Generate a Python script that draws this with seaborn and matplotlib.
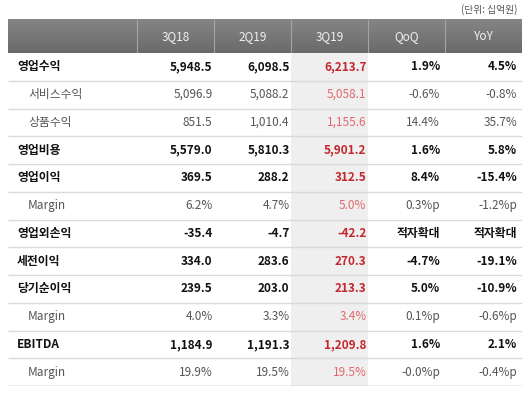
import numpy as np
import pandas as pd
import matplotlib
matplotlib.use("Agg")
import matplotlib.pyplot as plt
from matplotlib.colors import ListedColormap, LinearSegmentedColormap
import seaborn as sns

# table data
columns = ["3Q18", "2Q19", "3Q19", "QoQ", "YoY"]
labels = ["영업수익", "서비스수익", "상품수익", "영업비용", "영업이익", "Margin",
          "영업외손익", "세전이익", "당기순이익", "Margin", "EBITDA", "Margin"]
is_sub = [False, True, True, False, False, True, False, False, False, True, False, True]
is_pct = [False, False, False, False, False, True, False, False, False, True, False, True]
q3_18 = [5948.5, 5096.9, 851.5, 5579.0, 369.5, 6.2, -35.4, 334.0, 239.5, 4.0, 1184.9, 19.9]
q2_19 = [6098.5, 5088.2, 1010.4, 5810.3, 288.2, 4.7, -4.7, 283.6, 203.0, 3.3, 1191.3, 19.5]
q3_19 = [6213.7, 5058.1, 1155.6, 5901.2, 312.5, 5.0, -42.2, 270.3, 213.3, 3.4, 1209.8, 19.5]
qoq = ["1.9%", "-0.6%", "14.4%", "1.6%", "8.4%", "0.3%p", "적자확대", "-4.7%", "5.0%",
       "0.1%p", "1.6%", "-0.0%p"]
yoy = ["4.5%", "-0.8%", "35.7%", "5.8%", "-15.4%", "-1.2%p", "적자확대", "-19.1%", "-10.9%",
       "-0.6%p", "2.1%", "-0.4%p"]
unit_note = "(단위: 십억원)"
highlight_col = "3Q19"


def fmt(v, pct):
    return f"{v:.1f}%" if pct else f"{v:,.1f}"


cells = pd.DataFrame({
    "3Q18": [fmt(v, p) for v, p in zip(q3_18, is_pct)],
    "2Q19": [fmt(v, p) for v, p in zip(q2_19, is_pct)],
    "3Q19": [fmt(v, p) for v, p in zip(q3_19, is_pct)],
    "QoQ": qoq,
    "YoY": yoy,
}, index=labels)

sns.set_theme(style="white")
plt.rcParams["font.family"] = ["Noto Sans CJK KR", "DejaVu Sans"]

W, H = 530, 405
fig = plt.figure(figsize=(W / 100, H / 100), dpi=100)
fig.patch.set_facecolor("white")

# layout in pixels
left, right = 8, 522
label_w = 129
head_top, head_bot = 19, 53
body_bot = 386
col_w = (right - left - label_w) / len(columns)
label_units = label_w / col_w
fs = 8.5

# body: seaborn heatmap for the cell backgrounds (3Q19 column shaded)
body_ax = fig.add_axes([left / W, (H - body_bot) / H, (right - left) / W, (body_bot - head_bot) / H])
mask_df = pd.DataFrame([[1 if c == highlight_col else 0 for c in columns] for _ in labels],
                       index=labels, columns=columns)
sns.heatmap(mask_df, ax=body_ax, cmap=ListedColormap(["white", "#efefef"]), cbar=False,
            xticklabels=False, yticklabels=False, linewidths=0, vmin=0, vmax=1)
body_ax.set_xlim(-label_units, len(columns))
body_ax.set_ylim(len(labels), 0)
body_ax.set_axis_off()

for i, lab in enumerate(labels):
    sub = is_sub[i]
    weight = "normal" if sub else "bold"
    base_col = "#555555" if sub else "#111111"
    body_ax.text(-label_units + (20 if sub else 9) / col_w, i + 0.5, lab, ha="left", va="center",
                 fontsize=fs, fontweight=weight, color=base_col)
    for j, c in enumerate(columns):
        txt = cells.iloc[i, j]
        color = base_col
        if c == highlight_col:
            color = "#e2686e" if sub else "#c4262f"
        r_pad = (1.5 if j < 3 else 5) / col_w
        body_ax.text(j + 1 - r_pad, i + 0.5, txt, ha="right", va="center",
                     fontsize=fs, fontweight=weight, color=color)
    line_col = "#aaaaaa" if i == len(labels) - 1 else "#dadada"
    body_ax.hlines(i + 1, -label_units, len(columns), color=line_col, lw=1.0)

# header band with gradient
head_ax = fig.add_axes([left / W, (H - head_bot) / H, (right - left) / W, (head_bot - head_top) / H])
grad = np.linspace(0, 1, 50).reshape(-1, 1)
head_ax.imshow(grad, aspect="auto", cmap=LinearSegmentedColormap.from_list("g", ["#858585", "#6a6a6a"]),
               extent=[-label_units, len(columns), 1, 0])
head_ax.set_xlim(-label_units, len(columns))
head_ax.set_ylim(1, 0)
head_ax.set_axis_off()
for j, c in enumerate(columns):
    head_ax.text(j + 0.5, 0.52, c, ha="center", va="center", fontsize=fs, color="#f0f0f0")
for j in range(len(columns)):
    head_ax.vlines(j, 0, 1, color="#a4a4a4", lw=0.8)

fig.text((right - 5) / W, (H - 10) / H, unit_note, ha="right", va="center", fontsize=7, color="#555555")

fig.savefig("out.png", dpi=100)
